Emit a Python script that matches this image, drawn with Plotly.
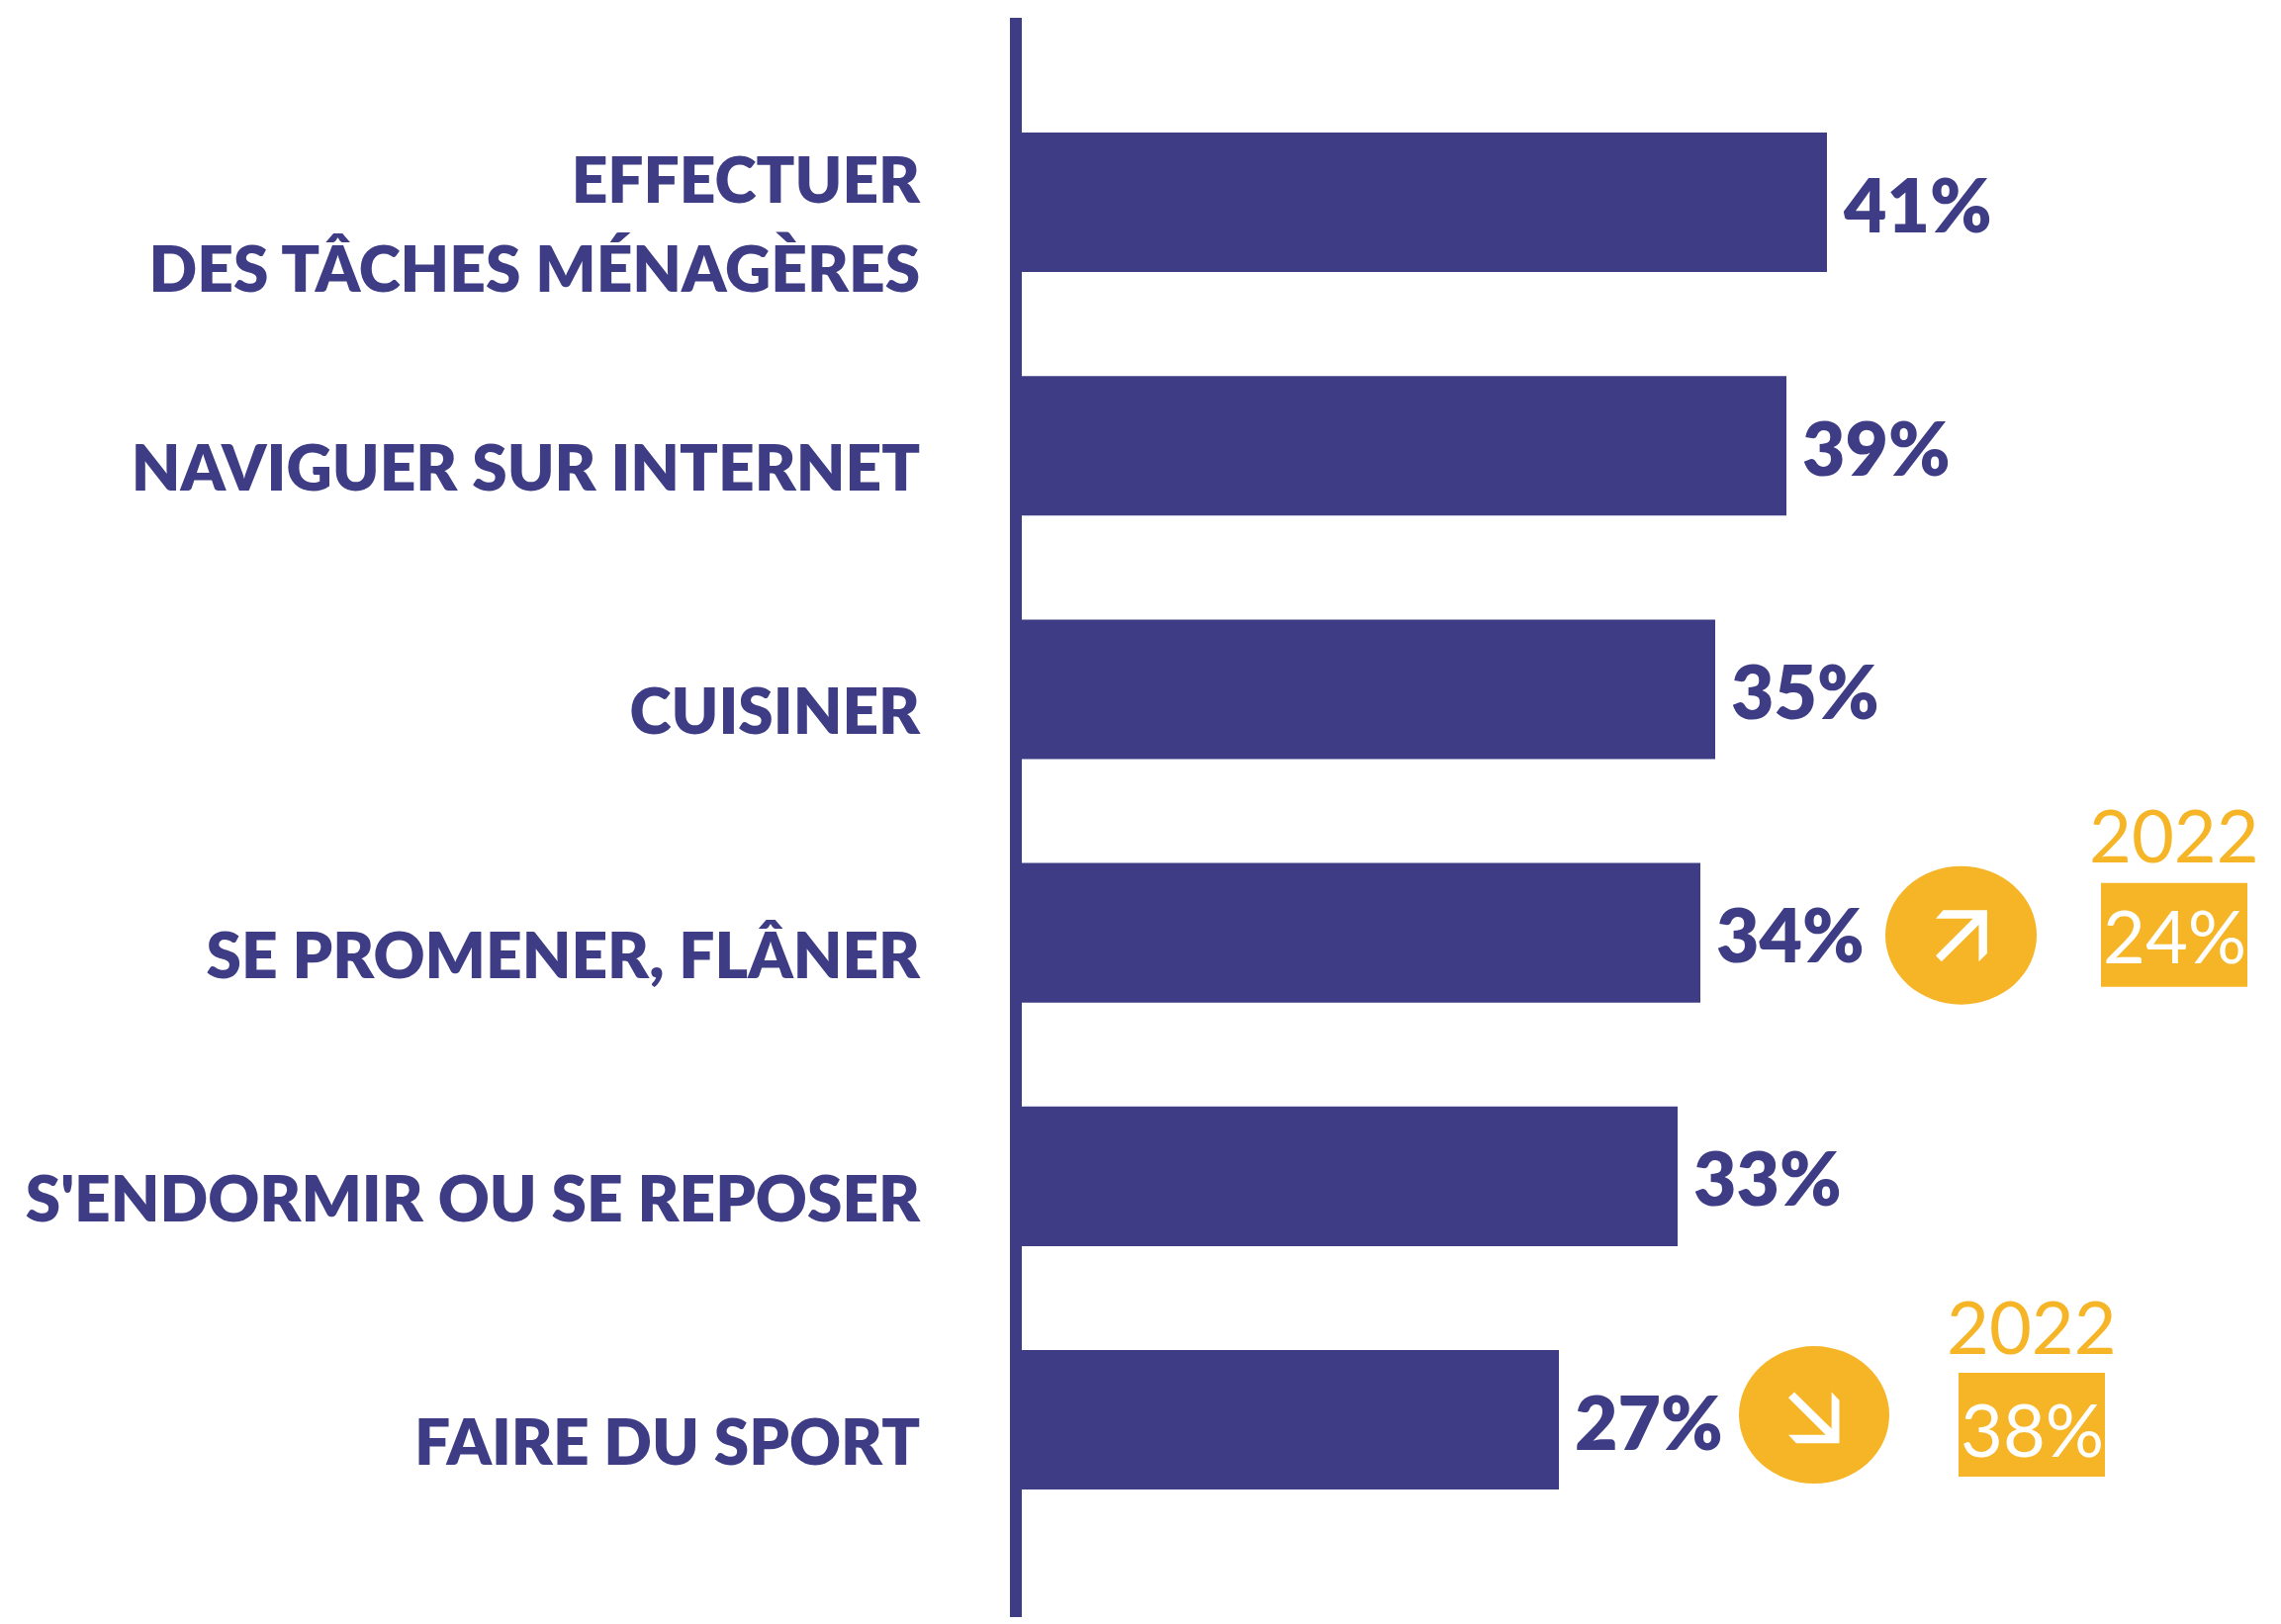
import plotly.graph_objects as go

categories = ["EFFECTUER<br>DES TÂCHES MÉNAGÈRES", "NAVIGUER SUR INTERNET", "CUISINER",
              "SE PROMENER, FLÂNER", "S'ENDORMIR OU SE REPOSER", "FAIRE DU SPORT"]
values = [40.7, 38.65, 35.05, 34.3, 33.15, 27.15]
value_labels = ["41%", "39%", "35%", "34%", "33%", "27%"]
comparison_rows = [3, 5]
comparison_years = ["2022", "2022"]
comparison_labels = ["24%", "38%"]

NAVY = "#3D3C85"
ORANGE = "#F6B427"
FONT = "Lato"
BODY_MARGIN = 8  # the page body offsets the figure by this many pixels

positions = list(range(len(categories)))
ROW_PX = 246.2

# pixel offsets of the trend decoration, relative to the bar end / bar centre
trend_layout = {
    3: dict(circle=(187, 340, -67.5, 72.5), box=(405, 553, -50.5, 54.5), year_dy=-102, pct_dy=3,
            arrow=[(-18, -25.3), (26.4, -25.3), (26.4, 18.3), (18, 26.7), (18, -10.7),
                   (-19.7, 26.7), (-25.5, 20.7), (12.1, -17), (-25.5, -17)]),
    5: dict(circle=(182, 334, -74.5, 64.5), box=(404, 552, -47.5, 57.5), year_dy=-100, pct_dy=7,
            arrow=[(-18, 28.7), (25.5, 28.7), (25.5, -14.7), (17.6, -23), (17.6, 14),
                   (-20, -23), (-26, -17.3), (11.7, 20.3), (-26, 20.3)]),
}

fig = go.Figure(go.Bar(
    x=values, y=positions, orientation="h", width=0.573,
    marker=dict(color=NAVY, line=dict(width=0)),
    hoverinfo="skip",
))

annotations = []
shapes = []

for row, val, lab in zip(positions, values, value_labels):
    annotations.append(dict(x=val, y=row, xref="x", yref="y", text=lab, showarrow=False,
                            xanchor="left", yanchor="middle", xshift=14, yshift=-1,
                            font=dict(family=FONT, size=75, color=NAVY, weight=800)))

for row, year, pct in zip(comparison_rows, comparison_years, comparison_labels):
    t = trend_layout[row]
    val = values[row]
    cx0, cx1, cy0, cy1 = t["circle"]
    bx0, bx1, by0, by1 = t["box"]
    common = dict(xref="x", yref="y", xsizemode="pixel", ysizemode="pixel",
                  xanchor=val, yanchor=row, line=dict(width=0))
    shapes.append(dict(type="circle", x0=cx0, x1=cx1, y0=-cy0, y1=-cy1, fillcolor=ORANGE, **common))
    shapes.append(dict(type="rect", x0=bx0, x1=bx1, y0=-by0, y1=-by1, fillcolor=ORANGE, **common))
    ccx, ccy = (cx0 + cx1) / 2, (cy0 + cy1) / 2
    pts = [(ccx + dx, -(ccy + dy)) for dx, dy in t["arrow"]]
    path = "M " + " L ".join(f"{a:.1f},{b:.1f}" for a, b in pts) + " Z"
    shapes.append(dict(type="path", path=path, fillcolor="white", **common))
    bcx, bcy = (bx0 + bx1) / 2, (by0 + by1) / 2
    annotations.append(dict(x=val, y=row, xref="x", yref="y", text=pct, showarrow=False,
                            xshift=bcx, yshift=-(bcy + t["pct_dy"] - 3),
                            font=dict(family=FONT, size=74, color="white")))
    annotations.append(dict(x=val, y=row, xref="x", yref="y", text=year, showarrow=False,
                            xshift=bcx, yshift=-(bcy + t["year_dy"]),
                            font=dict(family=FONT, size=74, color=ORANGE)))

# tick labels sit below the bar centre; the two-line label gets its wider line spacing from two ticks
tick_vals, tick_text = [], []
for p, cat in zip(positions, categories):
    lines = cat.split("<br>")
    if len(lines) == 2:
        tick_vals += [p - 22 / ROW_PX, p + 68 / ROW_PX]
    else:
        tick_vals += [p + 23 / ROW_PX]
    tick_text += lines

fig.update_layout(
    width=2306 - BODY_MARGIN, height=1642 - BODY_MARGIN,
    margin=dict(l=1033 - BODY_MARGIN, r=0, t=18 - BODY_MARGIN, b=7, autoexpand=False),
    paper_bgcolor="white", plot_bgcolor="white",
    showlegend=False,
    shapes=shapes, annotations=annotations,
    xaxis=dict(range=[0, 63.65], visible=False, showgrid=False, zeroline=False, fixedrange=True),
    yaxis=dict(range=[5.81, -0.7575], showgrid=False, zeroline=False, fixedrange=True,
               showline=True, linecolor=NAVY, linewidth=12,
               tickmode="array", tickvals=tick_vals, ticktext=tick_text,
               ticks="outside", ticklen=78, tickcolor="rgba(0,0,0,0)", tickwidth=1,
               tickfont=dict(family=FONT, size=64, color=NAVY, weight=800)),
)

fig.write_html("out.html", config=dict(displayModeBar=False))
